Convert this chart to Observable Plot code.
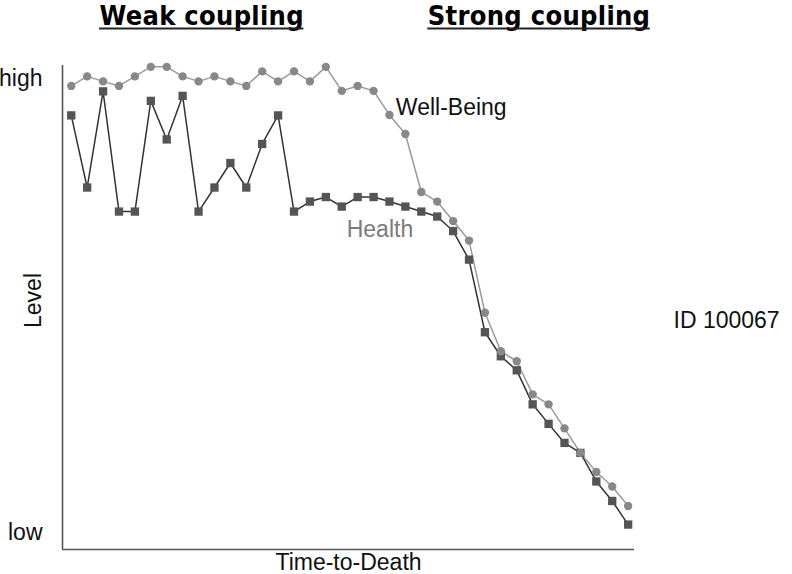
<!DOCTYPE html>
<html>
<head>
<meta charset="utf-8">
<script src="https://cdn.jsdelivr.net/npm/d3@7"></script>
<script src="https://cdn.jsdelivr.net/npm/@observablehq/plot@0.6"></script>
<style>
  html, body { margin: 0; padding: 0; background: #fff; }
</style>
</head>
<body>
<div id="chart"></div>
<script>
// Time index (measurement occasions, 1 = earliest, 36 = last before death)
const timeIndex = d3.range(1, 37);

// Well-Being level (0 = low, 100 = high)
const wellBeing = [98.5, 100.6, 99.5, 98.5, 100.6, 102.7, 102.7, 100.6, 99.5, 100.6,
  99.5, 98.5, 101.7, 99.5, 101.7, 99.5, 102.7, 97.4, 98.5, 97.4,
  92.1, 87.9, 75.1, 73.0, 68.7, 64.4, 48.5, 40.0, 37.8, 30.5,
  28.3, 23.0, 17.6, 13.4, 10.2, 5.9];

// Health level (0 = low, 100 = high)
const health = [92.0, 76.1, 97.3, 70.8, 70.8, 95.2, 86.7, 96.3, 70.8, 76.1,
  81.5, 76.1, 85.7, 92.0, 70.8, 73.0, 74.0, 71.9, 74.0, 74.0,
  73.0, 71.9, 70.8, 69.7, 66.5, 60.2, 44.2, 38.9, 35.8, 28.3,
  24.0, 19.8, 17.6, 11.3, 7.0, 1.8];

// Y tick values and labels
const yTicks = [0, 100];
const yTickLabels = ["low", "high"];

// Axis domains
const xDomain = [0.45, 36.4];
const yDomain = [-3.7, 103];

// Section titles (centered over time index)
const titles = [
  {t: 9.2, text: "Weak coupling"},
  {t: 30.4, text: "Strong coupling"}
];

// Series labels
const wbLabel = [{t: 21.4, v: 93.8, text: "Well-Being"}];
const healthLabel = [{t: 20.4, v: 66.8, text: "Health"}];

const wbData = timeIndex.map((t, i) => ({t, v: wellBeing[i]}));
const hData = timeIndex.map((t, i) => ({t, v: health[i]}));

const FS = 23;

const chart = Plot.plot({
  width: 792,
  height: 574,
  marginTop: 65,
  marginBottom: 25,
  marginLeft: 62,
  marginRight: 158,
  style: {fontFamily: "'Liberation Sans', Arial, Helvetica, sans-serif", fontSize: FS + "px", color: "#111", background: "#fff", overflow: "visible"},
  x: {domain: xDomain, axis: null},
  y: {domain: yDomain, axis: null},
  marks: [
    Plot.ruleX([xDomain[0]], {stroke: "#555", strokeWidth: 1.6}),
    Plot.ruleY([yDomain[0]], {stroke: "#555", strokeWidth: 1.6}),
    Plot.axisY({ticks: yTicks, tickFormat: (d) => yTickLabels[yTicks.indexOf(d)], tickSize: 0, tickPadding: 20, label: null, fontSize: FS, fill: "#111"}),
    Plot.text(["Level"], {frameAnchor: "left", textAnchor: "middle", lineAnchor: "middle", rotate: -90, dx: -29, dy: -7, fontSize: FS, fill: "#111"}),
    Plot.text(["Time-to-Death"], {frameAnchor: "bottom", lineAnchor: "middle", dy: 13, fontSize: FS, fill: "#111"}),
    Plot.text(["ID 100067"], {frameAnchor: "right", dx: 39, dy: 13, textAnchor: "start", lineAnchor: "middle", fontSize: FS, fill: "#111"}),
    Plot.text(titles, {x: "t", text: "text", frameAnchor: "top", lineAnchor: "middle", dy: -49.6, fontSize: 27, fontWeight: "bold", fontFamily: "'DejaVu Sans Condensed', 'DejaVu Sans', sans-serif", fill: "#000"}),
    Plot.line(hData, {x: "t", y: "v", stroke: "#333", strokeWidth: 1.5}),
    Plot.line(wbData, {x: "t", y: "v", stroke: "#9a9a9a", strokeWidth: 1.5}),
    Plot.dot(hData, {x: "t", y: "v", symbol: "square", r: 4.7, fill: "#555", stroke: "none"}),
    Plot.dot(wbData, {x: "t", y: "v", r: 4.2, fill: "#888", stroke: "none"}),
    Plot.text(wbLabel, {x: "t", y: "v", text: "text", fill: "#111", textAnchor: "start", fontSize: FS}),
    Plot.text(healthLabel, {x: "t", y: "v", text: "text", fill: "#7a7a7a", textAnchor: "middle", fontSize: FS})
  ]
});

document.getElementById("chart").appendChild(chart);

// underline the section titles
const xScale = chart.scale("x");
const titleStrings = titles.map((d) => d.text);
d3.select(chart).selectAll("text")
  .filter(function () { return titleStrings.includes(this.textContent); })
  .style("font-stretch", "condensed")
  .style("letter-spacing", "0.3px")
  .each(function () {
    const k = titleStrings.indexOf(this.textContent);
    let w = 0;
    try { w = this.getComputedTextLength(); } catch (e) { w = 200; }
    if (!w) w = 200;
    const cx = xScale.apply(titles[k].t);
    d3.select(chart).append("line")
      .attr("x1", cx - w / 2).attr("x2", cx + w / 2)
      .attr("y1", 28.5).attr("y2", 28.5)
      .attr("stroke", "#222").attr("stroke-width", 2);
  });
</script>
</body>
</html>
